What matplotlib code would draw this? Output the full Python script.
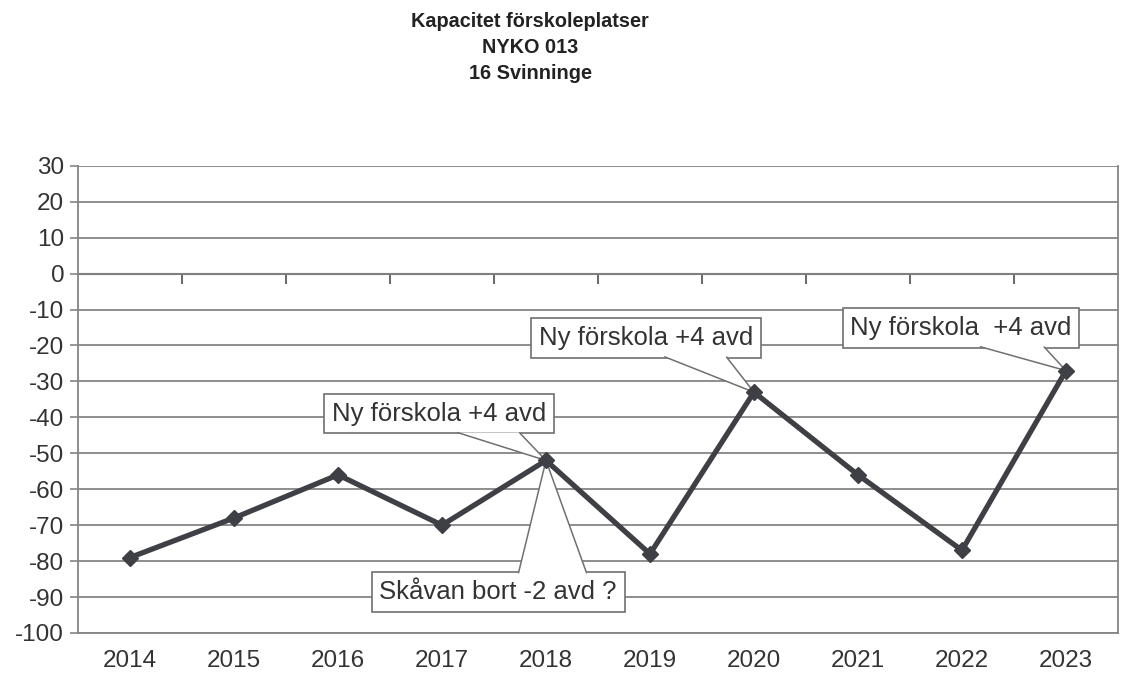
import matplotlib.pyplot as plt
from matplotlib.patches import Polygon
import numpy as np

plt.rcParams['font.family'] = ['Liberation Sans', 'DejaVu Sans']
plt.rcParams['axes.unicode_minus'] = False

years = ['2014', '2015', '2016', '2017', '2018', '2019', '2020', '2021', '2022', '2023']
kapacitet = [-79, -68, -56, -70, -52, -78, -33, -56, -77, -27]

title = 'Kapacitet förskoleplatser\nNYKO 013\n16 Svinninge'

# callouts: (text, index of year it points at, box centre x, box centre y)
callouts = [
    ('Ny förskola +4 avd', 4, 2.97, -39.0),
    ('Skåvan bort -2 avd ?', 4, 3.54, -88.6),
    ('Ny förskola +4 avd', 6, 4.96, -17.9),
    ('Ny förskola  +4 avd', 9, 7.99, -15.1),
]

grid_c = '#858585'
line_c = '#3e4046'
text_c = '#333333'
box_c = '#707070'

fig = plt.figure(figsize=(11.23, 6.86), dpi=100)
ax = fig.add_axes([0.0695, 0.0773, 0.926, 0.681])

x = np.arange(len(years))
ax.plot(x, kapacitet, color=line_c, lw=3.8, marker='D', ms=8, zorder=7)

ax.set_xlim(-0.5, len(years) - 0.5)
ax.set_ylim(-100, 30)
ax.set_yticks(np.arange(-100, 31, 10))
ax.yaxis.grid(True, color=grid_c, lw=1.3)
ax.set_axisbelow(True)

ax.set_xticks(x)
ax.set_xticklabels(years)
ax.tick_params(axis='x', length=0, pad=12, labelsize=17.5, labelcolor=text_c)
ax.tick_params(axis='y', length=6, width=1.2, color=grid_c, pad=4,
               labelsize=17.5, labelcolor=text_c)

ax.spines['top'].set_visible(False)
for s in ['left', 'right', 'bottom']:
    ax.spines[s].set_color(grid_c)
    ax.spines[s].set_linewidth(1.3)

# category axis crossing at zero, with tick marks between years
secax = ax.secondary_xaxis(100 / 130)
secax.set_xticks(np.arange(0.5, len(years) - 1, 1))
secax.set_xticklabels([])
secax.tick_params(direction='in', length=7, width=1.3, color='#5a5a5a',
                  labeltop=False, labelbottom=False)
for s in secax.spines.values():
    s.set_color('#5a5a5a')
    s.set_linewidth(1.5)

anns = []
for txt, i, tx, ty in callouts:
    a = ax.text(tx, ty, txt, ha='center', va='center', fontsize=18.5,
                color=text_c, zorder=5,
                bbox=dict(boxstyle='square,pad=0.3', fc='white', ec=box_c, lw=1.2))
    anns.append(a)

fig.text(0.472, 0.982, title, ha='center', va='top', fontsize=14.3,
         fontweight='bold', color='#222222', linespacing=1.45)

# callout pointers, joined to the box edge like the Excel shapes
fig.canvas.draw()
renderer = fig.canvas.get_renderer()
inv = ax.transData.inverted()
for a, (txt, i, tx, ty) in zip(anns, callouts):
    bb = a.get_bbox_patch().get_window_extent(renderer)
    tip = ax.transData.transform((x[i], kapacitet[i]))
    by = bb.y0 + 1.0 if tip[1] < bb.y0 else bb.y1 - 1.0
    pts = [(bb.x0 + 0.58 * bb.width, by), tuple(tip), (bb.x0 + 0.85 * bb.width, by)]
    pts = inv.transform(pts)
    ax.add_patch(Polygon(pts, closed=False, fc='white', ec=box_c, lw=1.1, zorder=6))

plt.savefig('out.png', dpi=100)
plt.close()
